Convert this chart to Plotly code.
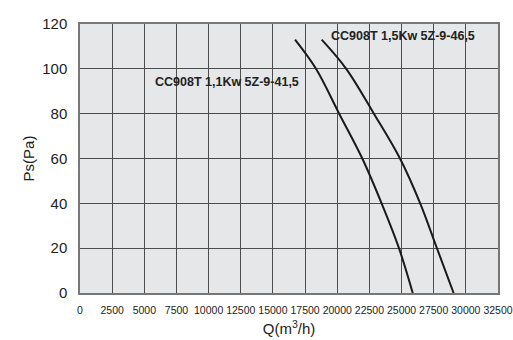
import plotly.graph_objects as go

# Curve data
q_11kw = [16720, 18350, 20150, 21950, 23450, 24800, 25870]
p_11kw = [113, 100, 80, 60, 40, 20, 0]
q_15kw = [18790, 20700, 22850, 24880, 26450, 27750, 29050]
p_15kw = [113, 100, 80, 60, 40, 20, 0]

label_11kw = "CC908T 1,1Kw 5Z-9-41,5"
label_15kw = "CC908T 1,5Kw 5Z-9-46,5"
x_ticks = list(range(0, 32501, 2500))
y_ticks = list(range(0, 121, 20))

fig = go.Figure()
for q, p in [(q_11kw, p_11kw), (q_15kw, p_15kw)]:
    fig.add_trace(go.Scatter(x=q, y=p, mode="lines",
                             line=dict(color="#1a1a1a", width=2, shape="spline", smoothing=1.0),
                             showlegend=False, hoverinfo="skip"))

fig.add_annotation(x=5680, y=94.3, text="<b>" + label_11kw + "</b>", showarrow=False,
                   xanchor="left", yanchor="middle",
                   font=dict(family="Liberation Sans, Arial", size=12.5, color="#222"))
fig.add_annotation(x=19360, y=114.6, text="<b>" + label_15kw + "</b>", showarrow=False,
                   xanchor="left", yanchor="middle",
                   font=dict(family="Liberation Sans, Arial", size=12.5, color="#222"))

fig.update_layout(
    width=513, height=340,
    margin=dict(l=80, r=15, t=24, b=47),
    paper_bgcolor="white", plot_bgcolor="#e6e7e9",
    font=dict(family="Liberation Sans, Arial", color="#222"),
    xaxis=dict(range=[0, 32500], tickvals=x_ticks, ticktext=[str(v) for v in x_ticks],
               tickangle=0, automargin=False,
               showgrid=True, gridcolor="#4d4d4d", gridwidth=1.3,
               showline=True, linecolor="#777", linewidth=1.5, mirror=True,
               zeroline=False, ticks="", ticklabelstandoff=7,
               tickfont=dict(family="Liberation Sans, Arial", size=10.5, color="#222"),
               title=dict(text="Q(m<sup>3</sup>/h)", font=dict(size=15), standoff=8)),
    yaxis=dict(range=[0, 120], tickvals=y_ticks, automargin=False,
               showgrid=True, gridcolor="#4d4d4d", gridwidth=1.3,
               showline=True, linecolor="#777", linewidth=1.5, mirror=True,
               zeroline=False, ticks="", ticklabelstandoff=8,
               tickfont=dict(size=15, color="#222"),
               title=dict(text="Ps(Pa)", font=dict(size=15), standoff=4)),
)

fig.write_html("out.html")
